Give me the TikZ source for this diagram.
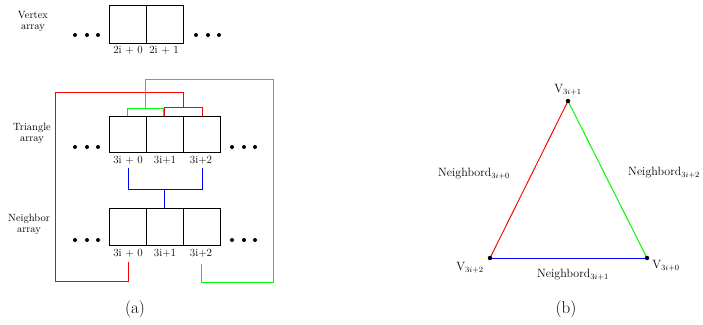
\documentclass[tikz,border=0pt]{standalone}
\usetikzlibrary{positioning}
\definecolor{lred}{RGB}{255,0,0}
\definecolor{lgreen}{RGB}{0,245,0}
\definecolor{lblue}{RGB}{0,0,255}
\begin{document}
\begin{tikzpicture}[x=1pt,y=-1pt,
  cell/.style={draw=black,line width=0.8pt,minimum width=37pt,minimum height=37pt,inner sep=0pt,anchor=north west},
  idx/.style={font=\fontsize{11}{13}\selectfont,inner sep=2pt},
  side/.style={font=\fontsize{10.5}{11}\selectfont,align=center,inner sep=0pt},
  bigdot/.style={circle,fill=black,inner sep=0pt,minimum size=4pt},
  vdot/.style={circle,fill=black,inner sep=0pt,minimum size=4.5pt},
  lab/.style={font=\fontsize{12}{14}\selectfont,inner sep=1pt},
  captext/.style={font=\fontsize{17}{20}\selectfont,inner sep=0pt},
  wire/.style={line width=0.95pt}]
\useasboundingbox (0,0) rectangle (703,324);

% ---- Vertex array
\node[side] (vtxt) at (33,21) {Vertex\\array};
\node[cell,minimum height=38pt] (va0) at (109,5) {};
\node[cell,minimum height=38pt] (va1) at (146,5) {};
\node[bigdot] (vd1) at (75,35) {};
\node[bigdot] (vd2) at (87,35) {};
\node[bigdot] (vd3) at (98,35) {};
\node[bigdot] (vd4) at (196,35) {};
\node[bigdot] (vd5) at (208,35) {};
\node[bigdot] (vd6) at (219,35) {};
\node[idx] (vl0) at (128,50) {2i + 0};
\node[idx] (vl1) at (164,50) {2i + 1};

% ---- Triangle array
\node[side] (ttxt) at (32,133) {Triangle\\array};
\node[cell,minimum height=36pt] (t0) at (109,116) {};
\node[cell,minimum height=36pt] (t1) at (146,116) {};
\node[cell,minimum height=36pt] (t2) at (183,116) {};
\node[bigdot] (td1) at (75,147) {};
\node[bigdot] (td2) at (87,147) {};
\node[bigdot] (td3) at (98,147) {};
\node[bigdot] (td4) at (232,147) {};
\node[bigdot] (td5) at (244,147) {};
\node[bigdot] (td6) at (255,147) {};
\node[idx] (tl0) at (128,160) {3i + 0};
\node[idx] (tl1) at (165,160) {3i+1};
\node[idx] (tl2) at (201,160) {3i+2};

% ---- Neighbor array
\node[side] (ntxt) at (29,224) {Neighbor\\array};
\node[cell] (n0) at (109,208) {};
\node[cell] (n1) at (146,208) {};
\node[cell] (n2) at (183,208) {};
\node[bigdot] (nd1) at (75,240) {};
\node[bigdot] (nd2) at (87,240) {};
\node[bigdot] (nd3) at (98,240) {};
\node[bigdot] (nd4) at (232,240) {};
\node[bigdot] (nd5) at (244,240) {};
\node[bigdot] (nd6) at (255,240) {};
\node[idx] (nl0) at (128,253) {3i + 0};
\node[idx] (nl1) at (165,253) {3i+1};
\node[idx] (nl2) at (201,253) {3i+2};

% ---- connectors (shifted half a pixel so 1px lines are crisp)
\begin{scope}[shift={(0.5,0.5)}]
\coordinate (rA) at (164,115.5);
\coordinate (rB) at (202,115.5);
\coordinate (rE) at (128,261);
\draw[wire,lred] (rA) -- (164,107) -| (rB);
\draw[wire,lred] (183,107) -- (183,92) -- (55,92) -- (55,281) -| (rE);

\coordinate (gA) at (127,115.5);
\coordinate (gB) at (163,115.5);
\coordinate (gE) at (201,263);
\draw[wire,lgreen] (gA) -- (127,108) -| (gB);
\draw[wire,lgreen] (145,108) -- (145,79) -- (273,79) -- (273,282) -| (gE);

\coordinate (bA) at (128,167);
\coordinate (bB) at (202,167);
\coordinate (bC) at (164,207.5);
\draw[wire,lblue] (bA) -- (128,189) -| (bB);
\draw[wire,lblue] (164,189) -- (bC);
\end{scope}

\node[captext] (capa) at (135,309) {(a)};

% ---- Triangle figure
\coordinate (v1) at (568,101);
\coordinate (v2) at (490,258);
\coordinate (v0) at (647,258);
\coordinate (v2b) at (490,258.5);
\coordinate (v0b) at (647,258.5);
\draw[wire,lred] (v2) -- (v1);
\draw[wire,lgreen] (v1) -- (v0);
\draw[wire,lblue] (v2b) -- (v0b);
\node[vdot] (d1) at (v1) {};
\node[vdot] (d2) at (v2) {};
\node[vdot] (d0) at (v0) {};
\node[lab] (lv1) at (568,90) {V$_{3i+1}$};
\node[lab] (lv2) at (470,268) {V$_{3i+2}$};
\node[lab] (lv0) at (666,266) {V$_{3i+0}$};
\node[lab] (ln0) at (474,174) {Neighbord$_{3i+0}$};
\node[lab,anchor=west] (ln2) at (627,173) {Neighbord$_{3i+2}$};
\node[lab] (ln1) at (573,275) {Neighbord$_{3i+1}$};
\node[captext] (capb) at (566,309) {(b)};
\end{tikzpicture}
\end{document}
